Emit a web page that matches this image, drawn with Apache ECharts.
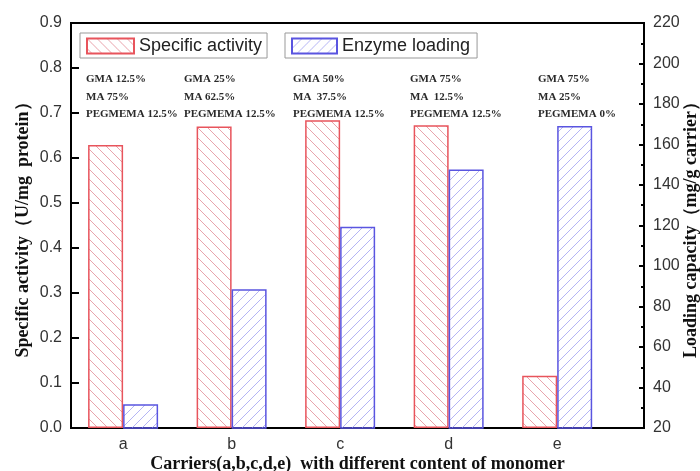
<!DOCTYPE html>
<html>
<head>
<meta charset="utf-8">
<script src="https://cdn.jsdelivr.net/npm/echarts@6/dist/echarts.min.js"></script>
<style>html,body{margin:0;padding:0;background:#fff}#c{width:700px;height:471px}</style>
</head>
<body>
<div id="c"></div>
<script>
var categories = ['a', 'b', 'c', 'd', 'e'];
var categoryPos = [1, 2, 3, 4, 5];
var specificActivity = [0.629, 0.670, 0.684, 0.673, 0.116];
var enzymeLoading = [31.7, 88.5, 119.4, 147.6, 169.1];
var leftTicks = [0, 0.1, 0.2, 0.3, 0.4, 0.5, 0.6, 0.7, 0.8, 0.9];
var rightTicks = [20, 40, 60, 80, 100, 120, 140, 160, 180, 200, 220];
var annotations = [
  ['GMA 12.5%', 'MA 75%', 'PEGMEMA 12.5%'],
  ['GMA 25%', 'MA 62.5%', 'PEGMEMA 12.5%'],
  ['GMA 50%', 'MA  37.5%', 'PEGMEMA 12.5%'],
  ['GMA 75%', 'MA  12.5%', 'PEGMEMA 12.5%'],
  ['GMA 75%', 'MA 25%', 'PEGMEMA 0%']
];
var annotationX = [86, 184, 293, 410, 538];

function hatch(dir, color) {
  var s = 10;
  var cv = document.createElement('canvas');
  cv.width = s; cv.height = s;
  var ctx = cv.getContext('2d');
  ctx.fillStyle = color;
  for (var i = 0; i < s; i++) {
    if (dir === 'back') ctx.fillRect(i, i, 1, 1);
    else ctx.fillRect(i, s - 1 - i, 1, 1);
  }
  return cv;
}

var redData = categoryPos.map(function (x, i) { return [x, specificActivity[i]]; });
var blueData = categoryPos.map(function (x, i) { return [x, enzymeLoading[i]]; });

var graphics = [];
annotations.forEach(function (lines, i) {
  lines.forEach(function (t, j) {
    graphics.push({
      type: 'text', left: annotationX[i], top: 74 + j * 17.5,
      style: { text: t, font: 'bold 11px "Liberation Serif", "Times New Roman", serif', fill: '#2a2a2a' }
    });
  });
});

var chart = echarts.init(document.getElementById('c'));
var serifName = { fontFamily: '"Liberation Serif","Times New Roman",serif', fontWeight: 'bold', fontSize: 18, color: '#111' };
var sans = 'Arial, "Liberation Sans", sans-serif';
chart.setOption({
  animation: false,
  backgroundColor: '#fff',
  grid: { left: 71, top: 23, right: 56, bottom: 43, outerBoundsMode: 'none', containLabel: false,
    show: true, borderColor: '#000', borderWidth: 2, backgroundColor: 'transparent' },
  legend: [
    { data: ['Specific activity'], icon: 'rect', left: 80, top: 33, padding: [4, 5, 3, 6], itemWidth: 47, itemHeight: 15, itemGap: 6,
      borderColor: '#999', borderWidth: 1, textStyle: { fontFamily: sans, fontSize: 18, color: '#222' } },
    { data: ['Enzyme loading'], icon: 'rect', left: 285, top: 33, padding: [4, 7, 3, 6], itemWidth: 45, itemHeight: 15, itemGap: 6,
      borderColor: '#999', borderWidth: 1, textStyle: { fontFamily: sans, fontSize: 18, color: '#222' } }
  ],
  xAxis: {
    type: 'value', min: 0.52, max: 5.8,
    name: 'Carriers(a,b,c,d,e)  with different content of monomer',
    nameLocation: 'middle', nameGap: 27, nameMoveOverlap: false, nameTextStyle: serifName,
    axisLine: { lineStyle: { color: '#000', width: 2 } },
    axisTick: { show: false },
    splitLine: { show: false },
    axisLabel: { customValues: categoryPos, margin: 9, fontSize: 16, color: '#333', fontFamily: sans,
      formatter: function (v) { return categories[Math.round(v) - 1] || ''; } }
  },
  yAxis: [
    { type: 'value', min: leftTicks[0], max: leftTicks[leftTicks.length - 1], interval: 0.1, position: 'left',
      name: 'Specific activity（U/mg  protein）', nameLocation: 'middle', nameGap: 39, nameMoveOverlap: false, nameRotate: 90, nameTextStyle: serifName,
      axisLine: { show: true, lineStyle: { color: '#000', width: 2 } },
      axisTick: { show: true, inside: true, length: 8, lineStyle: { color: '#000', width: 2 } },
      splitLine: { show: false },
      axisLabel: { fontSize: 16, color: '#333', margin: 9, fontFamily: sans, formatter: function (v) { return v.toFixed(1); } } },
    { type: 'value', min: rightTicks[0], max: rightTicks[rightTicks.length - 1], interval: 20, position: 'right',
      name: 'Loading capacity（mg/g carrier）', nameLocation: 'middle', nameGap: 38, nameMoveOverlap: false, nameRotate: 90, nameTextStyle: serifName,
      axisLine: { show: true, lineStyle: { color: '#000', width: 2 } },
      axisTick: { show: true, inside: true, length: 5, lineStyle: { color: '#000', width: 2 } },
      minorTick: { show: true, splitNumber: 2, length: 3, lineStyle: { color: '#000', width: 2 } },
      splitLine: { show: false },
      axisLabel: { fontSize: 16, color: '#333', margin: 9, fontFamily: sans } }
  ],
  series: [
    { name: 'Specific activity', type: 'bar', yAxisIndex: 0, data: redData, barWidth: 35, barGap: '0%',
      itemStyle: { color: { image: hatch('back', '#e9a3ab'), repeat: 'repeat' }, borderColor: '#e8545c', borderWidth: 1.5 } },
    { name: 'Enzyme loading', type: 'bar', yAxisIndex: 1, data: blueData, barWidth: 35, barGap: '0%',
      itemStyle: { color: { image: hatch('fwd', '#b4b4f4'), repeat: 'repeat' }, borderColor: '#5a55e0', borderWidth: 1.5 } }
  ],
  graphic: graphics
});
</script>
</body>
</html>
